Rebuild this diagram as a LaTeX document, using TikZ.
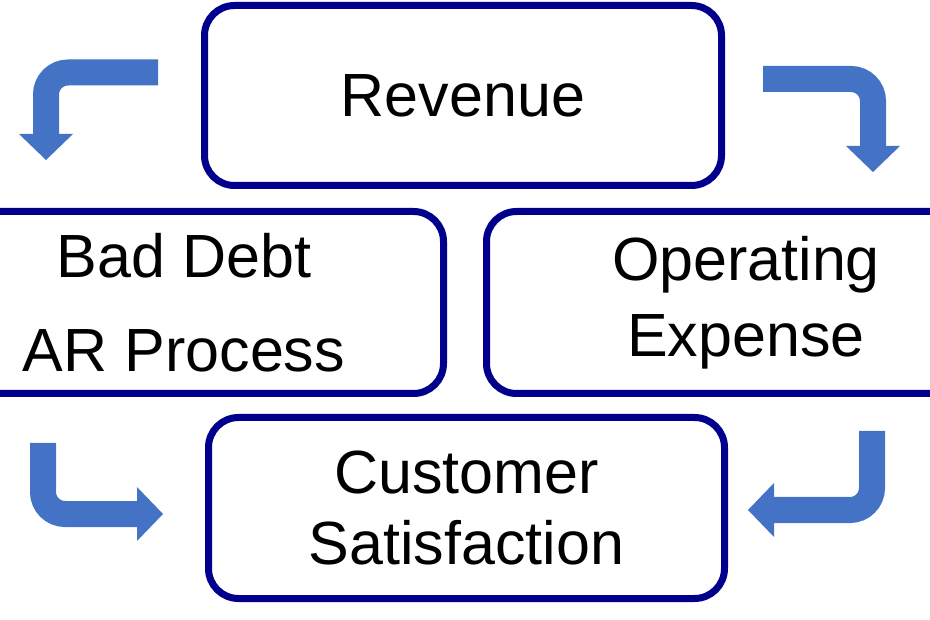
\documentclass[tikz,border=0pt]{standalone}
\usepackage{fontspec}
\setmainfont{Liberation Sans}
\usetikzlibrary{arrows.meta}
\definecolor{boxblue}{RGB}{0,0,140}
\definecolor{arrowblue}{RGB}{68,114,196}
\tikzset{
    block/.style={draw=boxblue, line width=7pt, rounded corners=30pt, align=center,
        inner sep=0pt, font=\fontsize{61}{71}\selectfont},
    bent/.style={draw=arrowblue, line width=26pt, rounded corners=22pt,
        -{Triangle[width=54pt,length=26pt,line width=0pt]}}
}
\begin{document}
\begin{tikzpicture}[x=1pt, y=-1pt]
            \useasboundingbox (0,0) rectangle (930,620);
            \clip (0,0) rectangle (930,620);

            \node[block, minimum width=517pt, minimum height=180pt] (revenue) at (463,95.5) {Revenue};
            \node[block, minimum width=519pt, minimum height=182pt] (baddebt) at (184,302.5) {Bad Debt\\[23pt]AR Process};
            \node[block, minimum width=519pt, minimum height=182pt] (opex) at (746,302.5) {Operating\\[5pt]Expense};
            \node[block, minimum width=516pt, minimum height=181pt] (custsat) at (466.5,508) {Customer\\Satisfaction};

            \coordinate (tl start) at (158,72.5);
            \coordinate (tl end) at (46,160);
            \coordinate (tr start) at (763,79);
            \coordinate (tr end) at (873,172);
            \coordinate (bl start) at (43,443);
            \coordinate (bl end) at (163,514);
            \coordinate (br start) at (872,431);
            \coordinate (br end) at (748,510);

            \draw[bent] (tl start) -| (tl end);
            \draw[bent] (tr start) -| (tr end);
            \draw[bent] (bl start) |- (bl end);
            \draw[bent] (br start) |- (br end);
        \end{tikzpicture}
\end{document}
